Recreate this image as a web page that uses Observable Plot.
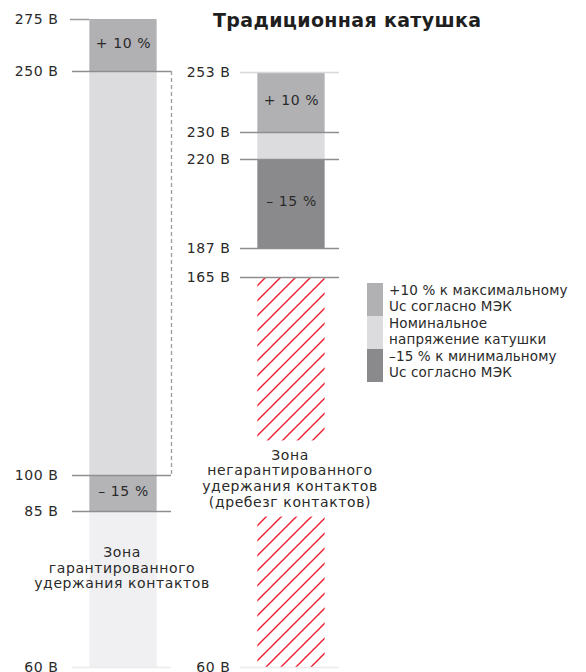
<!DOCTYPE html>
<html>
<head>
<meta charset="utf-8">
<script src="https://cdn.jsdelivr.net/npm/d3@7"></script>
<script src="https://cdn.jsdelivr.net/npm/@observablehq/plot@0.6"></script>
<style>
  html, body { margin: 0; padding: 0; background: #fff; overflow: hidden; }
  #wrap { position: relative; width: 586px; height: 672px; font-family: "DejaVu Sans", sans-serif; color: #2a2a2a; }
  #wrap svg { position: absolute; top: 0; }
  #title { position: absolute; left: 213px; top: 9px; font-size: 19px; letter-spacing: 0.35px; font-weight: bold; line-height: 22px; color: #1f1f1f; white-space: nowrap; }
  #legend { position: absolute; left: 367px; top: 283px; }
  .lg-row { display: flex; align-items: flex-start; height: 33px; }
  .lg-sw { width: 16px; height: 33px; flex: none; }
  .lg-tx { margin-left: 6px; font-size: 13.5px; letter-spacing: 0.15px; line-height: 15.5px; margin-top: 0px; white-space: nowrap; color: #2a2a2a; }
</style>
</head>
<body>
<div id="wrap">
  <div id="title"></div>
  <div id="legend"></div>
</div>
<script>
// ---- data ----
const titleText = "Традиционная катушка";

// left column (universal coil range)
const leftLevels = [275, 250, 100, 85, 60];
const leftLineKind = ["stub", "main", "main", "main", "faint"];
const leftSegTop = [275, 250, 100, 85];
const leftSegBottom = [250, 100, 85, 60];
const leftSegKind = ["max", "nominal", "minLight", "zone"];
const leftPctText = ["+ 10 %", "– 15 %"];
const leftPctSeg = [0, 2];
const leftZoneText = "Зона\nгарантированного\nудержания контактов";
const leftZoneY = 76;
const leftDashed = [250, 100];

// right column (traditional coil)
const rightLevels = [253, 230, 220, 187, 165, 60];
const rightLineKind = ["light", "main", "main", "main", "main", "faint"];
const rightSegTop = [253, 230, 220];
const rightSegBottom = [230, 220, 187];
const rightSegKind = ["max", "nominal", "min"];
const rightPctText = ["+ 10 %", "– 15 %"];
const rightPctSeg = [0, 2];
const rightHatch = [165, 60];
const rightZoneGap = [121, 100.5];
const rightZoneText = "Зона\nнегарантированного\nудержания контактов\n(дребезг контактов)";
const rightZoneY = 111;

// legend
const legendKinds = ["max", "nominal", "min"];
const legendTexts = ["+10 % к максимальному\nUc согласно МЭК", "Номинальное\nнапряжение катушки", "–15 % к минимальному\nUc согласно МЭК"];

// ---- styles ----
const segColor = { max: "#b1b1b4", nominal: "#dcdcde", min: "#8a8a8d", minLight: "#b4b4b7", zone: "#f0f0f2" };
const lineColor = { main: "#8e8e91", stub: "#9a9a9d", light: "#d8d8da", faint: "#ececee" };
const BAR_X1 = 0.175, BAR_X2 = 0.855;
const FONT = "DejaVu Sans";

function column({ levels, lineKind, segTop, segBottom, segKind, pctText, pctSeg, yRange, zoneText, zoneY, hatch, gap, dashed, left, tickPad }) {
  const segs = segTop.map((t, i) => ({ top: t, bottom: segBottom[i], kind: segKind[i] }));
  const lines = levels.map((v, i) => ({ v, kind: lineKind[i] }));
  const pcts = pctText.map((t, i) => ({ text: t, y: (segTop[pctSeg[i]] + segBottom[pctSeg[i]]) / 2 }));
  const marks = [
    Plot.rectY(segs, { x1: BAR_X1, x2: BAR_X2, y1: "top", y2: "bottom", fill: d => segColor[d.kind] })
  ];
  if (hatch) {
    marks.push(Plot.rectY([{ a: hatch[0], b: hatch[1] }], { x1: BAR_X1, x2: BAR_X2, y1: "a", y2: "b", fill: "url(#hatch)" }));
    marks.push(Plot.rectY([{ a: gap[0], b: gap[1] }], { x1: BAR_X1 - 0.01, x2: BAR_X2 + 0.01, y1: "a", y2: "b", fill: "white" }));
  }
  marks.push(
    Plot.ruleY(lines.filter(d => d.kind !== "stub"), { y: "v", x1: 0, x2: 1, stroke: d => lineColor[d.kind], strokeWidth: 1.5 }),
    Plot.ruleY(lines.filter(d => d.kind === "stub"), { y: "v", x1: -0.02, x2: BAR_X1, stroke: d => lineColor[d.kind], strokeWidth: 1.5 })
  );
  if (dashed) {
    marks.push(Plot.ruleX([1], { y1: dashed[0], y2: dashed[1], stroke: "#9a9a9d", strokeWidth: 1.3, strokeDasharray: "4,3" }));
  }
  marks.push(
    Plot.text(levels, { y: d => d, frameAnchor: "left", dx: -tickPad, textAnchor: "end", text: d => `${d} В`, fontSize: 14, fill: "#2a2a2a" }),
    Plot.text(pcts, { x: (BAR_X1 + BAR_X2) / 2, y: "y", text: "text", fontSize: 14, fill: "#2a2a2a", dy: -2 }),
    Plot.text([zoneText], { x: 0.5, y: zoneY, text: d => d, fontSize: 14, lineHeight: 1.12, fill: "#2a2a2a" })
  );
  const svg = Plot.plot({
    width: 230, height: 672,
    marginLeft: 72, marginRight: 59, marginTop: 0, marginBottom: 0,
    style: { background: "transparent", overflow: "visible", fontFamily: FONT, letterSpacing: "0.6px" },
    x: { domain: [0, 1], axis: null },
    y: { type: "linear", domain: levels.slice().sort((a, b) => a - b), range: yRange, axis: null },
    marks
  });
  svg.style.left = left + "px";
  return svg;
}

const wrap = document.getElementById("wrap");
const leftSvg = column({
  levels: leftLevels, lineKind: leftLineKind, segTop: leftSegTop, segBottom: leftSegBottom, segKind: leftSegKind,
  pctText: leftPctText, pctSeg: leftPctSeg, yRange: [667, 511, 475, 71, 19],
  zoneText: leftZoneText, zoneY: leftZoneY, dashed: leftDashed, left: 0, tickPad: 14
});
const rightSvg = column({
  levels: rightLevels, lineKind: rightLineKind, segTop: rightSegTop, segBottom: rightSegBottom, segKind: rightSegKind,
  pctText: rightPctText, pctSeg: rightPctSeg, yRange: [667, 277, 248, 159, 132, 72],
  zoneText: rightZoneText, zoneY: rightZoneY, hatch: rightHatch, gap: rightZoneGap, left: 168, tickPad: 10
});
// hatch pattern definition
d3.select(rightSvg).insert("defs", ":first-child").html(
  '<pattern id="hatch" patternUnits="userSpaceOnUse" width="15" height="15">' +
  '<path d="M-2,2 L2,-2 M0,15 L15,0 M13,17 L17,13" stroke="#ec1c2e" stroke-width="1.4"/></pattern>'
);
wrap.appendChild(leftSvg);
wrap.appendChild(rightSvg);
document.getElementById("title").textContent = titleText;

// legend
const lg = document.getElementById("legend");
legendKinds.forEach((k, i) => {
  const row = document.createElement("div"); row.className = "lg-row";
  const sw = document.createElement("div"); sw.className = "lg-sw"; sw.style.background = segColor[k];
  const tx = document.createElement("div"); tx.className = "lg-tx";
  tx.innerHTML = legendTexts[i].split("\n").join("<br>");
  row.appendChild(sw); row.appendChild(tx); lg.appendChild(row);
});
</script>
</body>
</html>
